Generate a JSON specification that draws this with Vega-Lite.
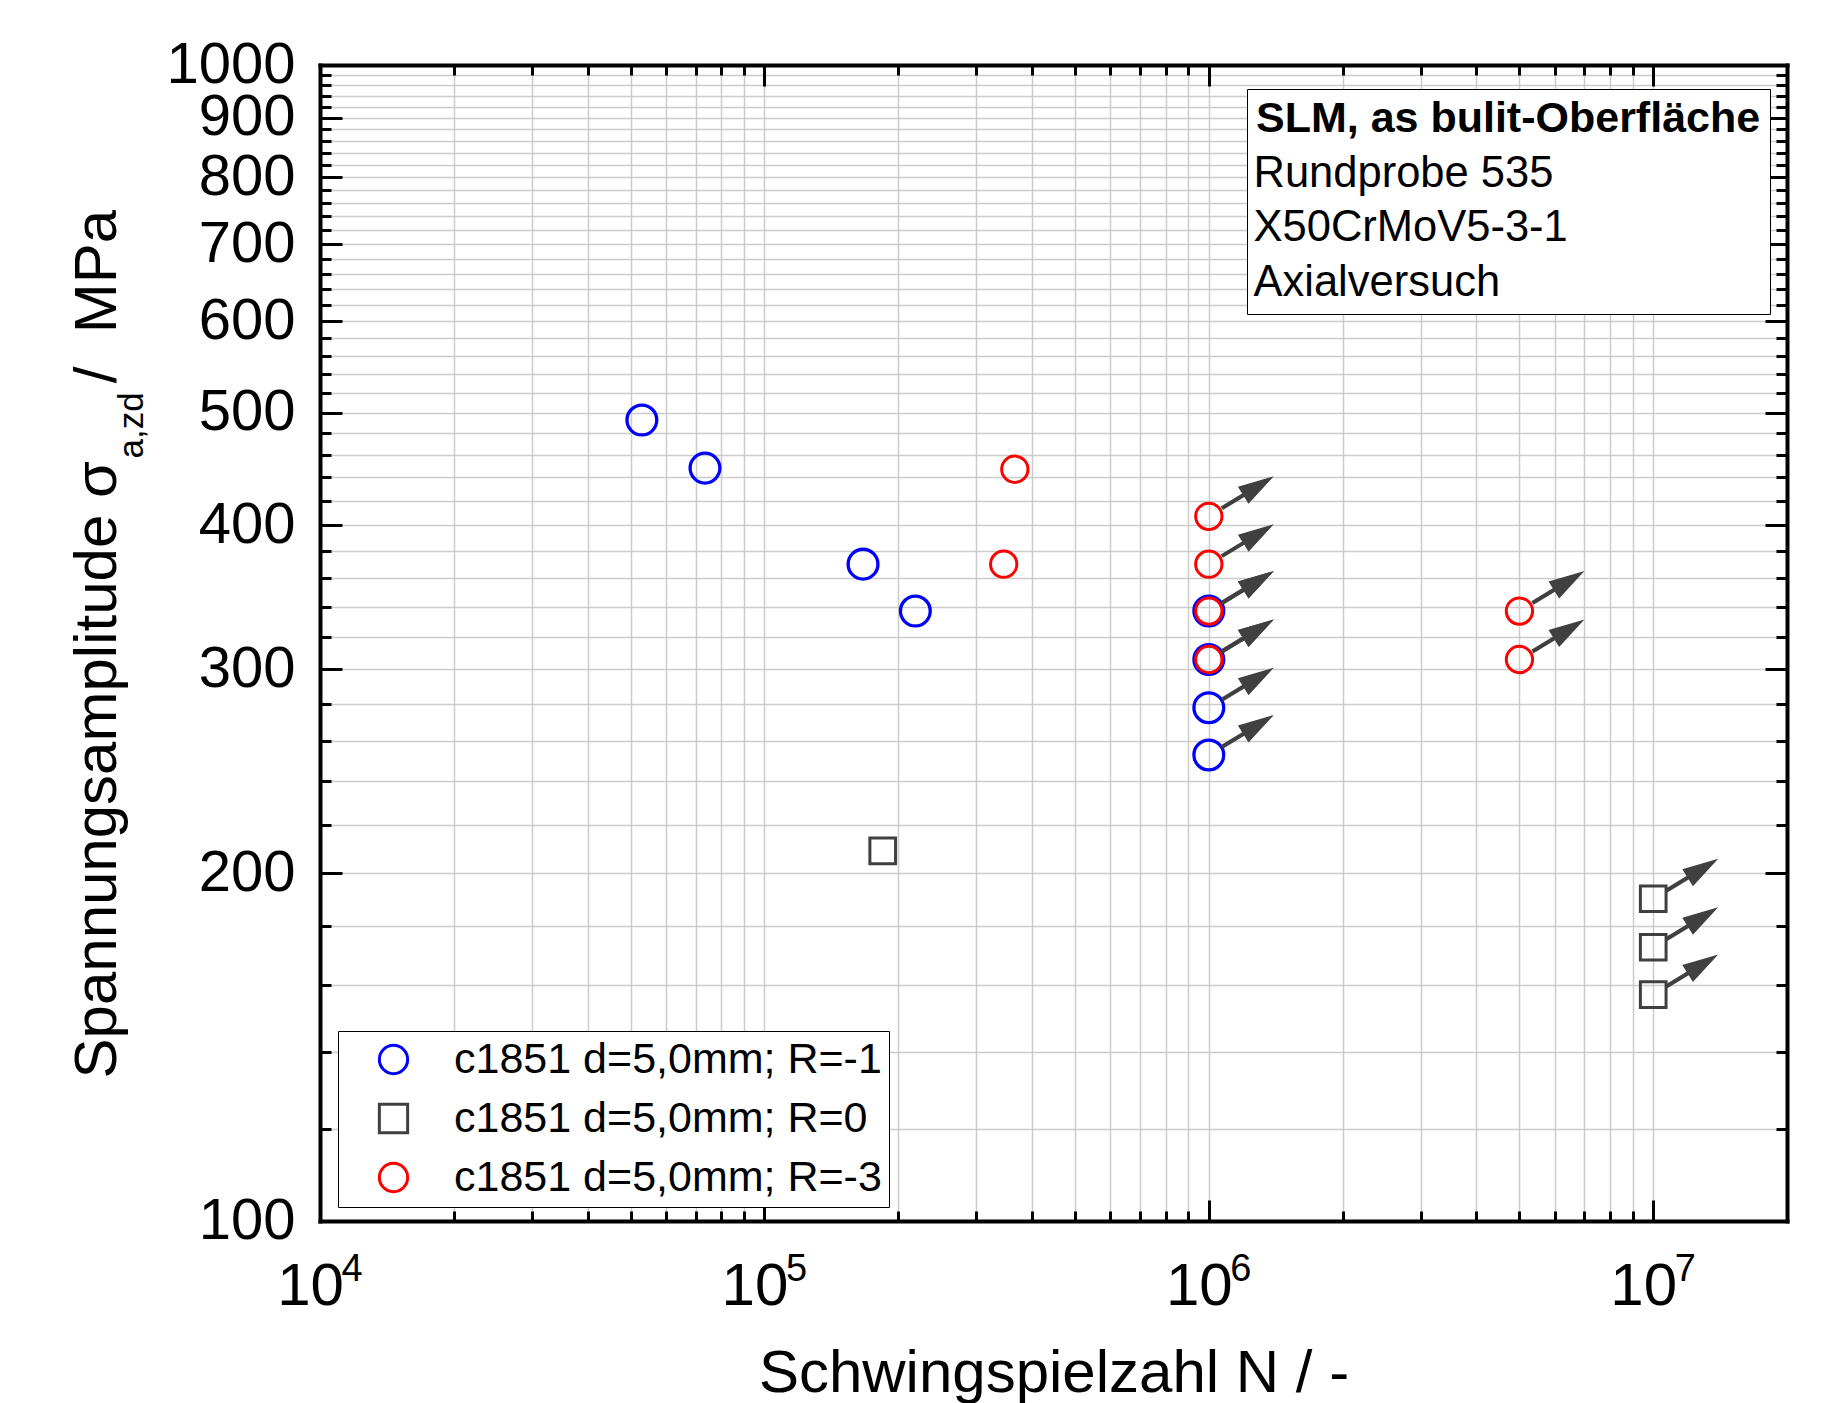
{
  "$schema": "https://vega.github.io/schema/vega-lite/v6.json",
  "autosize": "none",
  "width": 1467,
  "height": 1156,
  "padding": {"left": 320, "top": 65, "right": 39, "bottom": 182},
  "config": {"font": "Liberation Sans", "view": {"stroke": null}},
  "datasets": {
    "pts": [
      {"Serie": "c1851 d=5,0mm; R=-1", "N": 53000, "S": 493, "Durchlaeufer": false},
      {"Serie": "c1851 d=5,0mm; R=-1", "N": 73500, "S": 448, "Durchlaeufer": false},
      {"Serie": "c1851 d=5,0mm; R=-1", "N": 166700, "S": 370, "Durchlaeufer": false},
      {"Serie": "c1851 d=5,0mm; R=-1", "N": 218600, "S": 337, "Durchlaeufer": false},
      {"Serie": "c1851 d=5,0mm; R=-1", "N": 1000000, "S": 337, "Durchlaeufer": true},
      {"Serie": "c1851 d=5,0mm; R=-1", "N": 1000000, "S": 306, "Durchlaeufer": true},
      {"Serie": "c1851 d=5,0mm; R=-1", "N": 1000000, "S": 278, "Durchlaeufer": true},
      {"Serie": "c1851 d=5,0mm; R=-1", "N": 1000000, "S": 253, "Durchlaeufer": true},
      {"Serie": "c1851 d=5,0mm; R=0", "N": 184600, "S": 209, "Durchlaeufer": false},
      {"Serie": "c1851 d=5,0mm; R=0", "N": 10000000, "S": 190, "Durchlaeufer": true},
      {"Serie": "c1851 d=5,0mm; R=0", "N": 10000000, "S": 172.5, "Durchlaeufer": true},
      {"Serie": "c1851 d=5,0mm; R=0", "N": 10000000, "S": 157, "Durchlaeufer": true},
      {"Serie": "c1851 d=5,0mm; R=-3", "N": 366000, "S": 447, "Durchlaeufer": false},
      {"Serie": "c1851 d=5,0mm; R=-3", "N": 345500, "S": 370, "Durchlaeufer": false},
      {"Serie": "c1851 d=5,0mm; R=-3", "N": 1000000, "S": 407, "Durchlaeufer": true},
      {"Serie": "c1851 d=5,0mm; R=-3", "N": 1000000, "S": 370, "Durchlaeufer": true},
      {"Serie": "c1851 d=5,0mm; R=-3", "N": 1000000, "S": 337, "Durchlaeufer": true},
      {"Serie": "c1851 d=5,0mm; R=-3", "N": 1000000, "S": 306, "Durchlaeufer": true},
      {"Serie": "c1851 d=5,0mm; R=-3", "N": 5000000, "S": 337, "Durchlaeufer": true},
      {"Serie": "c1851 d=5,0mm; R=-3", "N": 5000000, "S": 306, "Durchlaeufer": true}
    ],
    "info": [
      {"info": "Rundprobe 535"},
      {"info": "X50CrMoV5-3-1"},
      {"info": "Axialversuch"}
    ]
  },
  "data": {"name": "pts"},
  "resolve": {"axis": {"x": "independent", "y": "independent"}},
  "layer": [
    {
      "transform": [{"filter": {"field": "Serie", "equal": "c1851 d=5,0mm; R=-1"}}],
      "mark": {"type": "point", "filled": false, "size": 888, "strokeWidth": 3.3, "opacity": 1},
      "encoding": {
        "x": {"field": "N", "type": "quantitative", "scale": {"type": "log", "domain": [10000, 20000000], "nice": false},
          "axis": {"orient": "bottom", "values": [10000,20000,30000,40000,50000,60000,70000,80000,90000,100000,200000,300000,400000,500000,600000,700000,800000,900000,1000000,2000000,3000000,4000000,5000000,6000000,7000000,8000000,9000000,10000000],
            "grid": true, "gridColor": "#cccccc", "gridWidth": 1.5, "ticks": false, "labels": false, "domain": false, "title": null}},
        "y": {"field": "S", "type": "quantitative", "scale": {"type": "log", "domain": [100, 1000], "nice": false},
          "axis": {"orient": "left", "values": [100,120,140,160,180,200,220,240,260,280,300,320,340,360,380,400,420,440,460,480,500,520,540,560,580,600,620,640,660,680,700,720,740,760,780,800,820,840,860,880,900,920,940,960,980,1000],
            "grid": true, "gridColor": "#cccccc", "gridWidth": 1.5, "ticks": false, "labels": false, "domain": false, "title": null}},
        "color": {"field": "Serie", "type": "nominal",
          "scale": {"domain": ["c1851 d=5,0mm; R=-1", "c1851 d=5,0mm; R=0", "c1851 d=5,0mm; R=-3"], "range": ["#0000ff", "#404040", "#ff0000"]},
          "legend": {"orient": "none", "legendX": 18, "legendY": 966, "title": null, "labelFontSize": 43, "labelColor": "black", "labelLimit": 0, "symbolSize": 800, "symbolStrokeWidth": 3, "symbolOffset": 27, "labelOffset": 39, "rowPadding": 15, "padding": 7, "strokeColor": "black", "fillColor": "white"}},
        "shape": {"field": "Serie", "type": "nominal",
          "scale": {"domain": ["c1851 d=5,0mm; R=-1", "c1851 d=5,0mm; R=0", "c1851 d=5,0mm; R=-3"], "range": ["circle", "square", "circle"]},
          "legend": {"orient": "none", "legendX": 18, "legendY": 966, "title": null, "labelFontSize": 43, "labelColor": "black", "labelLimit": 0, "symbolSize": 800, "symbolStrokeWidth": 3, "symbolOffset": 27, "labelOffset": 39, "rowPadding": 15, "padding": 7, "strokeColor": "black", "fillColor": "white"}}
      }
    },
    {
      "transform": [{"filter": {"field": "Serie", "equal": "c1851 d=5,0mm; R=0"}}],
      "mark": {"type": "point", "filled": false, "size": 660, "strokeWidth": 3, "opacity": 1},
      "encoding": {
        "x": {"field": "N", "type": "quantitative", "scale": {"type": "log", "domain": [10000, 20000000], "nice": false},
          "axis": {"orient": "bottom", "values": [10000, 100000, 1000000, 10000000], "grid": false,
            "domain": true, "domainColor": "black", "domainWidth": 4, "domainCap": "square",
            "ticks": true, "tickSize": -21, "tickWidth": 3, "tickColor": "black",
            "labelExpr": "'10'", "labelFontSize": 60, "labelColor": "black", "labelBaseline": "alphabetic", "labelAlign": "center", "labelOffset": -10, "labelPadding": 104, "labelFlush": false, "labelOverlap": false,
            "title": "Schwingspielzahl N / -", "titleFontSize": 60, "titleFontWeight": "normal", "titleColor": "black", "titleBaseline": "alphabetic", "titleY": 170}},
        "y": {"field": "S", "type": "quantitative", "scale": {"type": "log", "domain": [100, 1000], "nice": false},
          "axis": {"orient": "left", "values": [100,200,300,400,500,600,700,800,900,1000], "grid": false,
            "domain": true, "domainColor": "black", "domainWidth": 4, "domainCap": "square",
            "ticks": true, "tickSize": -22, "tickWidth": 3, "tickColor": "black",
            "labelExpr": "'' + datum.value", "labelFontSize": 58, "labelColor": "black", "labelAlign": "right", "labelBaseline": "middle", "labelPadding": 47, "labelFlush": false, "labelOverlap": false,
            "title": "Spannungsamplitude σ", "titleFontSize": 60, "titleFontWeight": "normal", "titleColor": "black", "titleAngle": -90, "titleAlign": "left", "titleBaseline": "alphabetic", "titleX": -205, "titleY": 1013}},
        "color": {"field": "Serie", "type": "nominal",
          "scale": {"domain": ["c1851 d=5,0mm; R=-1", "c1851 d=5,0mm; R=0", "c1851 d=5,0mm; R=-3"], "range": ["#0000ff", "#404040", "#ff0000"]}},
        "shape": {"field": "Serie", "type": "nominal",
          "scale": {"domain": ["c1851 d=5,0mm; R=-1", "c1851 d=5,0mm; R=0", "c1851 d=5,0mm; R=-3"], "range": ["circle", "square", "circle"]}}
      }
    },
    {
      "transform": [{"filter": {"field": "Serie", "equal": "c1851 d=5,0mm; R=-3"}}],
      "mark": {"type": "point", "filled": false, "size": 692, "strokeWidth": 3, "opacity": 1},
      "encoding": {
        "x": {"field": "N", "type": "quantitative", "scale": {"type": "log", "domain": [10000, 20000000], "nice": false},
          "axis": {"orient": "bottom", "values": [20000,30000,40000,50000,60000,70000,80000,90000,200000,300000,400000,500000,600000,700000,800000,900000,2000000,3000000,4000000,5000000,6000000,7000000,8000000,9000000],
            "grid": false, "domain": false, "labels": false, "ticks": true, "tickSize": -10, "tickWidth": 3, "tickColor": "black", "title": null}},
        "y": {"field": "S", "type": "quantitative", "scale": {"type": "log", "domain": [100, 1000], "nice": false},
          "axis": {"orient": "left", "values": [120,140,160,180,220,240,260,280,320,340,360,380,420,440,460,480,520,540,560,580,620,640,660,680,720,740,760,780,820,840,860,880,920,940,960,980],
            "grid": false, "domain": false, "labels": false, "ticks": true, "tickSize": -11, "tickWidth": 3, "tickColor": "black", "title": null}},
        "color": {"field": "Serie", "type": "nominal",
          "scale": {"domain": ["c1851 d=5,0mm; R=-1", "c1851 d=5,0mm; R=0", "c1851 d=5,0mm; R=-3"], "range": ["#0000ff", "#404040", "#ff0000"]}},
        "shape": {"field": "Serie", "type": "nominal",
          "scale": {"domain": ["c1851 d=5,0mm; R=-1", "c1851 d=5,0mm; R=0", "c1851 d=5,0mm; R=-3"], "range": ["circle", "square", "circle"]}}
      }
    },
    {
      "transform": [{"filter": "datum.Durchlaeufer"}],
      "mark": {"type": "point", "shape": "M 14.1 -6.3 L 35.5 -19.3 L 39.7 -12.5 L 65 -40 L 29.1 -29.5 L 33.3 -22.7 L 11.9 -9.7 Z", "filled": true, "color": "#404040", "size": 4, "opacity": 1, "strokeWidth": 0},
      "encoding": {
        "x": {"field": "N", "type": "quantitative", "scale": {"type": "log", "domain": [10000, 20000000], "nice": false},
          "axis": {"orient": "top", "values": [10000, 100000, 1000000, 10000000], "grid": false, "labels": false,
            "domain": true, "domainColor": "black", "domainWidth": 4, "domainCap": "square",
            "ticks": true, "tickSize": -21, "tickWidth": 3, "tickColor": "black", "title": null}},
        "y": {"field": "S", "type": "quantitative", "scale": {"type": "log", "domain": [100, 1000], "nice": false},
          "axis": {"orient": "right", "values": [100,200,300,400,500,600,700,800,900,1000], "grid": false, "labels": false,
            "domain": true, "domainColor": "black", "domainWidth": 4, "domainCap": "square",
            "ticks": true, "tickSize": -22, "tickWidth": 3, "tickColor": "black", "title": null}}
      }
    },
    {
      "mark": {"type": "point", "opacity": 0},
      "encoding": {
        "x": {"field": "N", "type": "quantitative", "scale": {"type": "log", "domain": [10000, 20000000], "nice": false},
          "axis": {"orient": "top", "values": [20000,30000,40000,50000,60000,70000,80000,90000,200000,300000,400000,500000,600000,700000,800000,900000,2000000,3000000,4000000,5000000,6000000,7000000,8000000,9000000],
            "grid": false, "domain": false, "labels": false, "ticks": true, "tickSize": -10, "tickWidth": 3, "tickColor": "black", "title": null}},
        "y": {"field": "S", "type": "quantitative", "scale": {"type": "log", "domain": [100, 1000], "nice": false},
          "axis": {"orient": "right", "values": [120,140,160,180,220,240,260,280,320,340,360,380,420,440,460,480,520,540,560,580,620,640,660,680,720,740,760,780,820,840,860,880,920,940,960,980],
            "grid": false, "domain": false, "labels": false, "ticks": true, "tickSize": -11, "tickWidth": 3, "tickColor": "black", "title": null}}
      }
    },
    {
      "mark": {"type": "point", "opacity": 0},
      "encoding": {
        "x": {"field": "N", "type": "quantitative", "scale": {"type": "log", "domain": [10000, 20000000], "nice": false},
          "axis": {"orient": "bottom", "values": [10000, 100000, 1000000, 10000000], "grid": false, "domain": false, "ticks": false, "tickSize": 0,
            "labelExpr": "'' + round(log(datum.value) / LN10)", "labelFontSize": 38, "labelColor": "black", "labelAlign": "left", "labelBaseline": "alphabetic", "labelOffset": 21, "labelPadding": 59, "labelFlush": false, "labelOverlap": false, "title": null}},
        "y": {"field": "S", "type": "quantitative", "scale": {"type": "log", "domain": [100, 1000], "nice": false},
          "axis": {"orient": "left", "grid": false, "domain": false, "ticks": false, "labels": false,
            "title": "a,zd", "titleFontSize": 35, "titleFontWeight": "normal", "titleColor": "black", "titleAngle": -90, "titleAlign": "left", "titleBaseline": "alphabetic", "titleX": -178, "titleY": 393}}
      }
    },
    {
      "mark": {"type": "point", "opacity": 0},
      "encoding": {
        "x": {"field": "N", "type": "quantitative", "scale": {"type": "log", "domain": [10000, 20000000], "nice": false}, "axis": null},
        "y": {"field": "S", "type": "quantitative", "scale": {"type": "log", "domain": [100, 1000], "nice": false},
          "axis": {"orient": "left", "grid": false, "domain": false, "ticks": false, "labels": false,
            "title": "/\u00a0 MPa", "titleFontSize": 60, "titleFontWeight": "normal", "titleColor": "black", "titleAngle": -90, "titleAlign": "center", "titleBaseline": "alphabetic", "titleX": -205, "titleY": 231}}
      }
    },
    {
      "data": {"name": "info"},
      "mark": {"type": "point", "opacity": 0},
      "encoding": {
        "strokeDash": {"field": "info", "type": "nominal",
          "scale": {"domain": ["Rundprobe 535", "X50CrMoV5-3-1", "Axialversuch"], "range": [[1, 0], [1, 0], [1, 0]]},
          "legend": {"orient": "none", "legendX": 927, "legendY": 24, "title": "SLM, as bulit-Oberfläche", "titleFontSize": 43, "titleFontWeight": "bold", "titleColor": "black", "titlePadding": 11, "titleLimit": 0,
            "labelFontSize": 43.5, "labelColor": "black", "labelLimit": 0, "labelOffset": -46, "symbolSize": 0, "symbolStrokeWidth": 0, "symbolOpacity": 0,
            "rowPadding": 9.5, "padding": 9, "strokeColor": "black", "fillColor": "white"}}
      }
    }
  ]
}
